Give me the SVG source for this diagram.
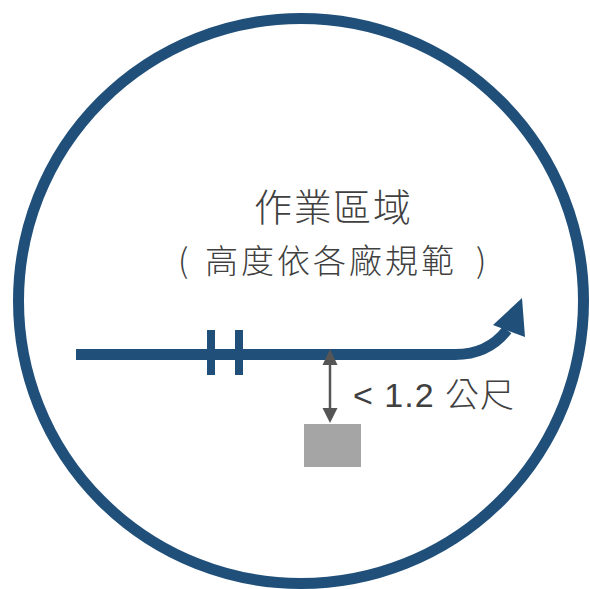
<svg xmlns="http://www.w3.org/2000/svg" width="590" height="589" viewBox="0 0 590 589">
<style>
.blue{stroke:#20507A;fill:none}
.bluef{fill:#20507A}
.grey{stroke:#555555;fill:none}
.greyf{fill:#555555}
.txt{fill:#404040;font-family:"Liberation Sans","Noto Sans CJK TC",sans-serif}
.cjk{fill:#404040;font-family:"Noto Sans CJK TC","Noto Sans CJK SC",sans-serif;font-weight:300}
</style>
<rect width="590" height="589" fill="#ffffff"/>
<g id="zone">
<circle cx="301" cy="301" r="282.5" class="blue" stroke-width="11"/>
</g>
<g id="title">
<text class="cjk" x="254" y="221" font-size="38" textLength="157" lengthAdjust="spacing">作業區域</text>
<text class="cjk" x="178" y="273" font-size="33">(</text>
<text class="cjk" x="205" y="273" font-size="33" textLength="249" lengthAdjust="spacing">高度依各廠規範</text>
<text class="cjk" x="476" y="273" font-size="33">)</text>
</g>
<g id="obstacle">
<rect x="304" y="424" width="57" height="43" fill="#A5A5A5"/>
</g>
<g id="label">
<text class="txt" x="353" y="407" font-size="34" textLength="161" lengthAdjust="spacing">&lt; 1.2 <tspan class="cjk">公尺</tspan></text>
</g>
<g id="connectors">
<path class="blue" stroke-width="11" d="M76 354.5 H455 Q488 354.5 507 330"/>
<polygon class="bluef" points="522,298 493,325 525,337"/>
<rect class="bluef" x="207" y="330" width="8" height="45"/>
<rect class="bluef" x="235" y="330" width="8" height="45"/>
<line class="grey" x1="330" y1="362" x2="330" y2="410" stroke-width="2.5"/>
<polygon class="greyf" points="330,349 322.5,365 337.5,365"/>
<polygon class="greyf" points="330,423 322.5,408 337.5,408"/>
</g>
</svg>
